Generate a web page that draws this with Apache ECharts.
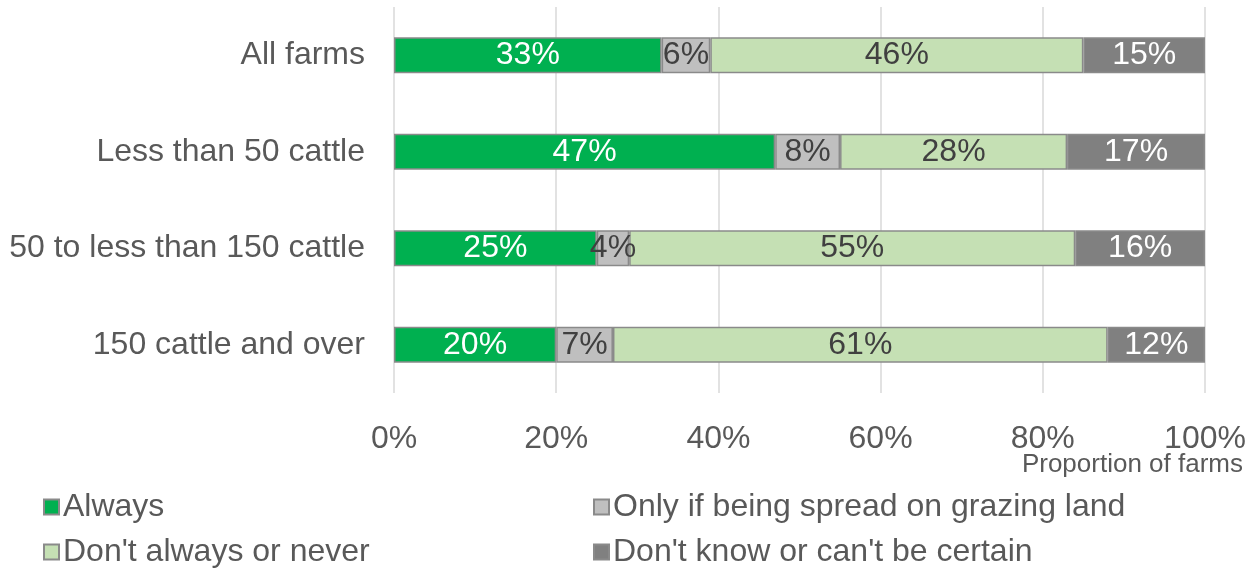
<!DOCTYPE html>
<html>
<head>
<meta charset="utf-8">
<script src="https://cdn.jsdelivr.net/npm/echarts@6/dist/echarts.min.js"></script>
<style>
  html, body { margin: 0; padding: 0; background: #ffffff; }
  #chart { width: 1253px; height: 571px; }
</style>
</head>
<body>
<div id="chart"></div>
<script>
// Farm groups, top to bottom
const categories = ['All farms', 'Less than 50 cattle', '50 to less than 150 cattle', '150 cattle and over'];

// Share of farms (%) per answer, in the same order as categories
const always = [33, 47, 25, 20];
const onlyGrazing = [6, 8, 4, 7];
const notAlways = [46, 28, 55, 61];
const dontKnow = [15, 17, 16, 12];

const seriesNames = ['Always', 'Only if being spread on grazing land', "Don't always or never", "Don't know or can't be certain"];
const xTicks = [0, 20, 40, 60, 80, 100];

const FONT = '"Liberation Sans", Arial, sans-serif';
const TEXT = '#595959';
const SIZE = 32;

function bar(name, data, color, labelColor) {
  return {
    name: name,
    type: 'bar',
    stack: 'total',
    barWidth: 36,
    data: data,
    itemStyle: { color: color, borderColor: '#8a8a8a', borderWidth: 1.5 },
    label: {
      show: true,
      position: 'inside',
      formatter: p => p.value + '%',
      color: labelColor,
      fontFamily: FONT,
      fontSize: SIZE
    }
  };
}

// One legend entry per block so the key sits in a 2 x 2 grid
function legendItem(name, left, top) {
  return {
    data: [name],
    left: left,
    top: top,
    itemWidth: 15,
    itemHeight: 15,
    icon: 'rect',
    selectedMode: false,
    textStyle: { color: TEXT, fontFamily: FONT, fontSize: SIZE, padding: [0, 0, 0, -1] }
  };
}

const chart = echarts.init(document.getElementById('chart'), null, { renderer: 'canvas' });
chart.setOption({
  animation: false,
  backgroundColor: '#ffffff',
  grid: { left: 394, right: 48, top: 7, bottom: 178, containLabel: false },
  xAxis: {
    type: 'value',
    min: 0,
    max: 100,
    interval: 20,
    axisLine: { show: false },
    axisTick: { show: false },
    splitLine: { show: true, lineStyle: { color: '#d9d9d9', width: 1.5 } },
    axisLabel: {
      formatter: v => xTicks.includes(v) ? v + '%' : '',
      color: TEXT,
      fontFamily: FONT,
      fontSize: SIZE,
      margin: 30
    }
  },
  yAxis: {
    type: 'category',
    data: categories,
    inverse: true,
    axisLine: { show: false },
    axisTick: { show: false },
    axisLabel: { color: TEXT, fontFamily: FONT, fontSize: SIZE, margin: 29, padding: [3, 0, 0, 0] }
  },
  legend: [
    legendItem(seriesNames[0], 38, 486),
    legendItem(seriesNames[2], 38, 531),
    legendItem(seriesNames[1], 588, 486),
    legendItem(seriesNames[3], 588, 531)
  ],
  graphic: [
    {
      type: 'text',
      right: 10,
      top: 452,
      style: { text: 'Proportion of farms', fill: TEXT, font: '26px "Liberation Sans", Arial, sans-serif' }
    }
  ],
  series: [
    bar(seriesNames[0], always, '#00b050', '#ffffff'),
    bar(seriesNames[1], onlyGrazing, '#bfbfbf', '#404040'),
    bar(seriesNames[2], notAlways, '#c5e0b4', '#404040'),
    bar(seriesNames[3], dontKnow, '#808080', '#ffffff')
  ]
});
</script>
</body>
</html>
